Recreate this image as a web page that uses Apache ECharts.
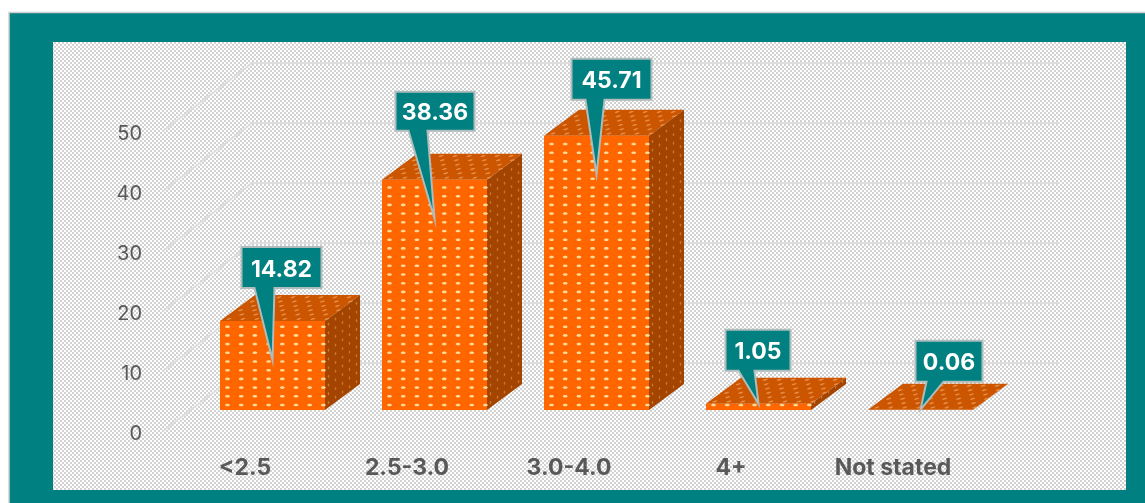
<!DOCTYPE html>
<html>
<head>
<meta charset="utf-8">
<style>html,body{margin:0;padding:0;background:#fff}#c{width:1145px;height:503px}</style>
<script src="https://cdn.jsdelivr.net/npm/echarts@6/dist/echarts.min.js"></script>
</head>
<body>
<div id="c"></div>
<script>
const categories = ['<2.5', '2.5-3.0', '3.0-4.0', '4+', 'Not stated'];
const values = [14.82, 38.36, 45.71, 1.05, 0.06];
const yTicks = [0, 10, 20, 30, 40, 50];

// projection of the floor: front edge -> bars -> back wall (px)
const BAR_OFFSET = [27.5, -21];
const BAR_DEPTH = [35, -26];
const WALL_DEPTH = [89, -68];
const BAR_W = 105;
// callout layout, relative to the tip: [boxLeft, boxRight, boxTop, boxBottom, baseLeft, baseRight]
const tipDrop = [39, 39, 39, 0, 0];
const calloutLayout = [
  [-31, 49, -113, -72, -18, 2],
  [-39, 40, -127, -88, -26, -7],
  [-25, 55, -116, -75, -11, 8],
  [-33, 32, -74, -33, -20, -4],
  [-5, 62, -69, -28, 6, 23]
];

const TEAL = '#008080';
const FONT = 'Inter';
function makePattern() {
  const c = document.createElement('canvas');
  c.width = 4; c.height = 4;
  const g = c.getContext('2d');
  g.fillStyle = '#ffffff'; g.fillRect(0, 0, 4, 4);
  g.fillStyle = '#d2d2d2';
  g.fillRect(0, 0, 2, 2); g.fillRect(2, 2, 2, 2);
  return c;
}

function dot(cx, cy, rx, ry, fill, opacity, rotation) {
  return { type: 'ellipse', silent: true,
    originX: cx, originY: cy, rotation: rotation || 0,
    shape: { cx, cy, rx, ry }, style: { fill, opacity } };
}
function poly(points, fill, stroke, lw) {
  return { type: 'polygon', silent: true, shape: { points },
    style: { fill, stroke: stroke || null, lineWidth: lw || 0 } };
}

function renderWall(params, api) {
  const cs = params.coordSys;
  const y = api.coord([0, api.value(1)])[1];
  const x0 = cs.x - 1, x1 = cs.x + cs.width - 3;
  const lineStyle = { stroke: '#dedede', lineWidth: 2, fill: null };
  return { type: 'group', children: [
    { type: 'polyline', silent: true, shape: { points: [
      [x0, y], [x0 + WALL_DEPTH[0], y + WALL_DEPTH[1]], [x1 + WALL_DEPTH[0], y + WALL_DEPTH[1]]
    ] }, style: lineStyle }
  ] };
}

function renderBar(params, api) {
  const c = api.coord([api.value(0), api.value(1)]);
  const b = api.coord([api.value(0), 0]);
  const left = c[0] + BAR_OFFSET[0] - BAR_W / 2;
  const right = left + BAR_W;
  const top = c[1] + BAR_OFFSET[1];
  const base = b[1] + BAR_OFFSET[1];
  const dx = BAR_DEPTH[0], dy = BAR_DEPTH[1];
  const ch = [];
  // side
  ch.push(poly([[right, top], [right + dx, top + dy], [right + dx, base + dy], [right, base]], '#a34400'));
  for (let i = 0; i < 5; i++) {
    const f = (i + 0.5) / 5;
    for (let yy = base - 5; yy > top + 1; yy -= 8.7) {
      ch.push(dot(right + dx * f, yy + dy * f, 0.8, 1.6, '#d88a3c', 0.7));
    }
  }
  // top
  ch.push(poly([[left, top], [right, top], [right + dx, top + dy], [left + dx, top + dy]], '#cc5500'));
  for (let r = 0; r < 6; r++) {
    const f = (r + 0.5) / 6;
    const shift = r % 2 ? 7 : 0;
    for (let xx = 6 + shift; xx < BAR_W; xx += 14) {
      ch.push(dot(left + xx + dx * f, top + dy * f, 2.6, 0.8, '#eda060', 0.75, 0.25));
    }
  }
  // front
  if (base - top > 0.5) {
    ch.push({ type: 'rect', silent: true, shape: { x: left, y: top, width: BAR_W, height: base - top },
      style: { fill: '#ff6600' } });
    for (let yy = base - 5; yy > top + 1; yy -= 8.7) {
      for (let xx = 7.5; xx < BAR_W; xx += 13.7) {
        ch.push(dot(left + xx, yy, 2.4, 1.3, '#ffdf9e', 0.95));
      }
    }
  }
  return { type: 'group', children: ch };
}

function renderCallout(params, api) {
  const i = params.dataIndex;
  const v = api.value(1);
  const c = api.coord([api.value(0), v]);
  const tx = c[0] + BAR_OFFSET[0];
  const ty = c[1] + BAR_OFFSET[1] + tipDrop[i];
  const L = calloutLayout[i];
  const bl = tx + L[0], br = tx + L[1], bt = ty + L[2], bb = ty + L[3];
  return { type: 'group', children: [
    poly([[bl, bt], [br, bt], [br, bb], [tx + L[5], bb], [tx, ty], [tx + L[4], bb], [bl, bb]],
      TEAL, '#aebcbc', 2),
    { type: 'text', silent: true, style: {
      text: v.toFixed(2), x: (bl + br) / 2, y: (bt + bb) / 2 + 2,
      fill: '#ffffff', fontFamily: FONT, fontWeight: 'bold', fontSize: 23,
      align: 'center', verticalAlign: 'middle' } }
  ] };
}

const chart = echarts.init(document.getElementById('c'), null, { renderer: 'canvas' });
const barData = values.map((v, i) => [i, v]);
chart.setOption({
  animation: false,
  backgroundColor: '#ffffff',
  graphic: [
    { type: 'rect', z: -10, silent: true, shape: { x: 9, y: 12.5, width: 1140, height: 495 },
      style: { fill: TEAL, stroke: '#cfcfcf', lineWidth: 1.5 } },
    { type: 'rect', z: -9, silent: true, shape: { x: 53, y: 42, width: 1073, height: 448 },
      style: { fill: { image: makePattern(), repeat: 'repeat' } } }
  ],
  grid: { left: 164, top: 131, width: 810, height: 300, containLabel: false },
  xAxis: {
    type: 'category', data: categories,
    axisLine: { show: false }, axisTick: { show: false }, splitLine: { show: false },
    axisLabel: { margin: 26, color: '#595959', fontFamily: FONT, fontWeight: 'bold', fontSize: 23, interval: 0 }
  },
  yAxis: {
    type: 'value', min: 0, max: 50, interval: 10,
    axisLine: { show: false }, axisTick: { show: false }, splitLine: { show: false },
    axisLabel: { margin: 22, verticalAlign: 'top', lineHeight: 6, color: '#595959', fontFamily: FONT, fontSize: 20 }
  },
  series: [
    { type: 'custom', z: 1, silent: true, renderItem: renderWall, data: yTicks.map(t => [0, t]), encode: { x: 0, y: 1 } },
    { type: 'custom', z: 2, silent: true, renderItem: renderBar, data: barData, encode: { x: 0, y: 1 } },
    { type: 'custom', z: 3, silent: true, renderItem: renderCallout, data: barData, encode: { x: 0, y: 1 } }
  ]
});
</script>
</body>
</html>
